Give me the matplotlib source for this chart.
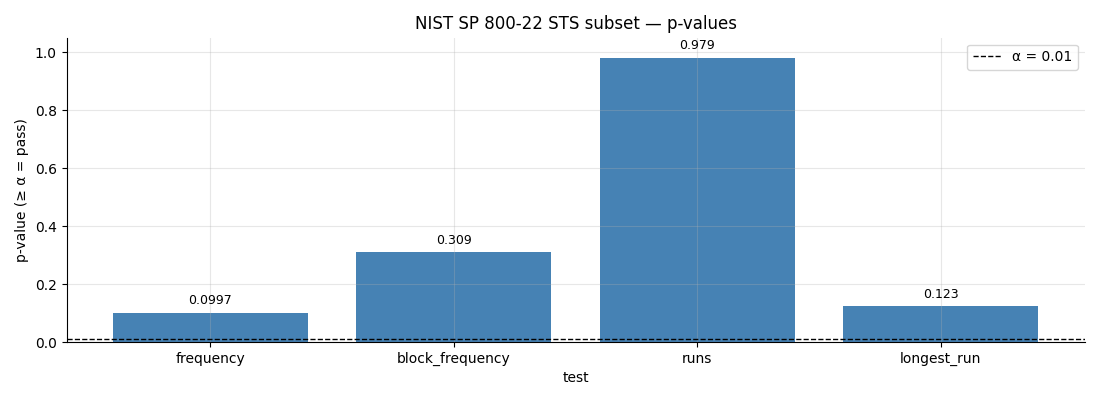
import matplotlib
matplotlib.use("Agg")
import matplotlib.pyplot as plt

tests = ["frequency", "block_frequency", "runs", "longest_run"]
p_values = [0.0997, 0.309, 0.979, 0.123]
alpha = 0.01

fig, ax = plt.subplots(figsize=(11, 4), dpi=100)
ax.bar(tests, p_values, color="steelblue", width=0.8)
ax.axhline(alpha, color="black", linestyle="--", linewidth=1, label="α = 0.01")

for i, v in enumerate(p_values):
    ax.text(i, v + 0.02, f"{v:.3g}", ha="center", va="bottom", fontsize=9)

ax.set_ylim(0, 1.05)
ax.set_xlabel("test")
ax.set_ylabel("p-value (≥ α = pass)")
ax.set_title("NIST SP 800-22 STS subset — p-values")
ax.grid(True, alpha=0.3)
ax.spines["top"].set_visible(False)
ax.spines["right"].set_visible(False)
ax.legend(loc="upper right")

fig.subplots_adjust(left=0.0605, right=0.986, top=0.906, bottom=0.145)
fig.savefig("out.png")
